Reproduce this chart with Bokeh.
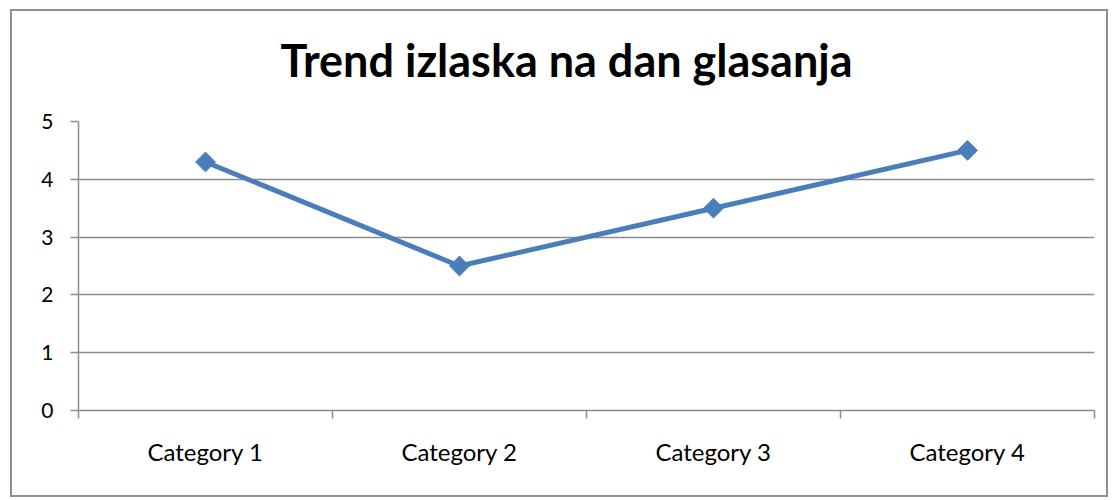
import math
from bokeh.plotting import figure
from bokeh.models import Range1d, FixedTicker, ColumnDataSource, Title
from bokeh.embed import file_html
from bokeh.resources import INLINE

title = "Trend izlaska na dan glasanja"
categories = ["Category 1", "Category 2", "Category 3", "Category 4"]
values = [4.3, 2.5, 3.5, 4.5]
y_ticks = [0, 1, 2, 3, 4, 5]

FONT = "Lato"
GRID = "#8c8c8c"
BLUE = "#4a7ebb"

xs = [i + 0.5 for i in range(len(categories))]
src = ColumnDataSource(dict(x=xs, y=values, cat=categories))

p = figure(
    frame_width=1016, frame_height=289,
    x_range=Range1d(0, len(categories)), y_range=Range1d(0, 5),
    output_backend="svg", toolbar_location=None,
    min_border_left=66, min_border_right=12, min_border_top=110, min_border_bottom=85,
)
p.styles = {"border": "2px solid #8f8f8f", "margin-left": "10px", "margin-top": "9px"}
p.outline_line_color = None
p.background_fill_color = "white"
p.border_fill_color = "white"

p.title.text = title
p.title.align = "left"
p.title.offset = 202
p.title.vertical_align = "top"
p.title.text_font = FONT
p.title.text_font_style = "bold"
p.title.text_font_size = "45px"
p.title.text_color = "black"
p.title.standoff = 36

# small spacer between the title and the plot frame
p.add_layout(Title(text=" ", text_font_size="1px", standoff=12), "above")

# y axis
ya = p.yaxis[0]
ya.ticker = FixedTicker(ticks=y_ticks, minor_ticks=[])
ya.axis_line_color = GRID
ya.axis_line_width = 1.5
ya.major_tick_line_color = GRID
ya.major_tick_line_width = 1.5
ya.major_tick_out = 8
ya.major_tick_in = 0
ya.major_label_standoff = 17
ya.major_label_text_font = FONT
ya.major_label_text_font_size = "21px"
ya.major_label_text_color = "black"

# x axis: labels at category centres, ticks at category boundaries
xa = p.xaxis[0]
xa.ticker = FixedTicker(ticks=xs, minor_ticks=list(range(len(categories) + 1)))
xa.major_label_overrides = {x: c for x, c in zip(xs, categories)}
xa.axis_line_color = GRID
xa.axis_line_width = 1.5
xa.major_tick_out = 0
xa.major_tick_in = 0
xa.minor_tick_line_color = GRID
xa.minor_tick_line_width = 1.5
xa.minor_tick_out = 8
xa.minor_tick_in = 0
xa.major_label_standoff = 18
xa.major_label_text_font = FONT
xa.major_label_text_font_size = "24px"
xa.major_label_text_color = "black"

p.xgrid.grid_line_color = None
p.ygrid.ticker = FixedTicker(ticks=y_ticks)
p.ygrid.grid_line_color = GRID
p.ygrid.grid_line_width = 1.5

p.line("x", "y", source=src, line_color=BLUE, line_width=5)
p.scatter("x", "y", source=src, marker="square", angle=math.pi / 4, size=14,
          fill_color=BLUE, line_color=BLUE)

open("out.html", "w").write(file_html(p, INLINE))
